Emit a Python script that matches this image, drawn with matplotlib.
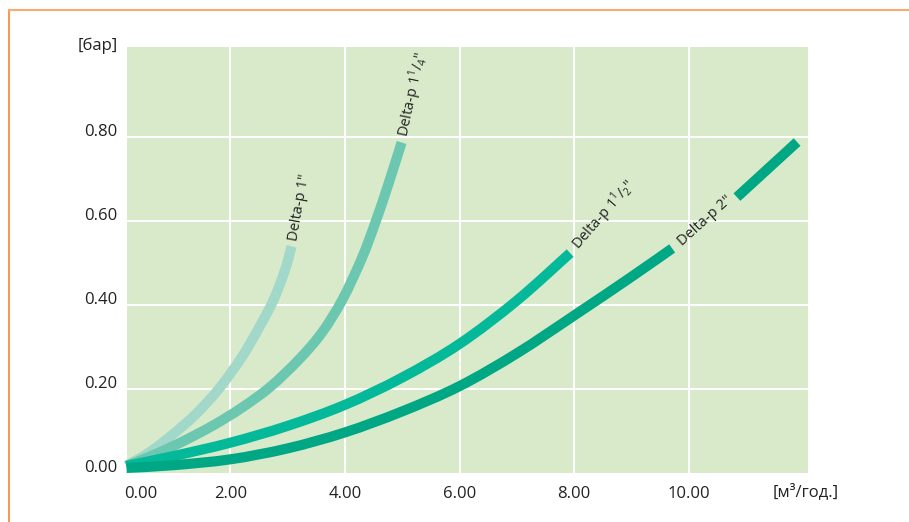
import numpy as np
import matplotlib
matplotlib.use("Agg")
import matplotlib.pyplot as plt
from matplotlib.lines import Line2D
from matplotlib.path import Path
from matplotlib.patches import PathPatch
from matplotlib.transforms import ScaledTranslation

plt.rcParams['font.family'] = ['Open Sans', 'Noto Sans', 'DejaVu Sans']
plt.rcParams['mathtext.fontset'] = 'custom'
plt.rcParams['mathtext.rm'] = 'Open Sans'
plt.rcParams['mathtext.it'] = 'Open Sans'

# ---- data ----
p1_x = [0.19, 0.6, 1.0, 1.4, 1.8, 2.2, 2.5, 2.75, 2.95, 3.07]
p1_y = [0.017, 0.050, 0.092, 0.140, 0.200, 0.275, 0.345, 0.410, 0.480, 0.539]

p114_x = [0.19, 0.7, 1.2, 1.7, 2.2, 2.7, 3.2, 3.6, 3.96, 4.30, 4.53, 4.75, 4.99]
p114_y = [0.017, 0.045, 0.077, 0.113, 0.155, 0.205, 0.270, 0.334, 0.413, 0.512, 0.595, 0.683, 0.786]

p112_x = [0.19, 1.0, 2.0, 3.0, 4.0, 5.0, 6.0, 7.0, 7.93]
p112_y = [0.017, 0.040, 0.072, 0.112, 0.162, 0.227, 0.307, 0.410, 0.523]

p2_x = [0.19, 1.0, 2.0, 3.0, 4.0, 5.0, 6.0, 7.0, 8.0, 9.0, 9.71, np.nan, 10.84, 11.89]
p2_y = [0.012, 0.0185, 0.0325, 0.0585, 0.0965, 0.1465, 0.2065, 0.2845, 0.3745, 0.4665, 0.534, np.nan, 0.656, 0.787]

series_labels = ['Delta-p 1"', r'Delta-p 1$^{1}$/$_{4}$"', r'Delta-p 1$^{1}$/$_{2}$"', 'Delta-p 2"']
series_colors = ['#a2d8c9', '#6cc7b1', '#03b99a', '#00a784']

x_grid = [2, 4, 6, 8, 10]
y_grid = [0.2, 0.4, 0.6, 0.8]
x_tick_pos = [0.44, 2, 4, 6, 8, 10]
x_tick_labels = ['0.00', '2.00', '4.00', '6.00', '8.00', '10.00']
y_tick_pos = [0.0, 0.2, 0.4, 0.6, 0.8]
y_tick_labels = ['0.00', '0.20', '0.40', '0.60', '0.80']

# label anchor positions / rotations
label_pos = [(3.10, 0.553), (5.03, 0.80), (8.03, 0.537), (9.85, 0.545)]
label_rot = [80, 78, 49, 42]

W, H = 909, 522
fig = plt.figure(figsize=(W / 100, H / 100), dpi=100)
fig.patch.set_facecolor('white')

ax = fig.add_axes([127 / W, 49 / H, (808 - 127) / W, (473 - 47) / H])
ax.set_facecolor('#d9eacb')
for s in ax.spines.values():
    s.set_visible(False)

ax.set_xlim(0.199, 12.08)
ax.set_ylim(0.0, 1.013)

for g in x_grid:
    ax.axvline(g, color='white', lw=1.4, zorder=1)
for g in y_grid:
    ax.axhline(g, color='white', lw=1.4, zorder=1)


def smooth_path(xs, ys):
    """Catmull-Rom curve through the given points, as cubic Bezier segments."""
    P = np.column_stack([xs, ys])
    verts = [P[0]]
    codes = [Path.MOVETO]
    n = len(P)
    for i in range(n - 1):
        p0 = P[i - 1] if i > 0 else P[i]
        p1 = P[i]
        p2 = P[i + 1]
        p3 = P[i + 2] if i + 2 < n else P[i + 1]
        c1 = p1 + (p2 - p0) / 6.0
        c2 = p2 - (p3 - p1) / 6.0
        verts += [c1, c2, p2]
        codes += [Path.CURVE4] * 3
    return Path(verts, codes)


data = [(p1_x, p1_y), (p114_x, p114_y), (p112_x, p112_y), (p2_x, p2_y)]
for (xs, ys), c in zip(data, series_colors):
    xs = np.asarray(xs, float)
    ys = np.asarray(ys, float)
    breaks = np.where(np.isnan(xs))[0]
    parts = np.split(np.arange(len(xs)), breaks)
    for idx in parts:
        idx = idx[~np.isnan(xs[idx])]
        if len(idx) < 2:
            continue
        patch = PathPatch(smooth_path(xs[idx], ys[idx]), fill=False, edgecolor=c,
                          lw=7.3, capstyle='butt', joinstyle='round', clip_on=False, zorder=3)
        ax.add_patch(patch)

for lab, (lx, ly), rot in zip(series_labels, label_pos, label_rot):
    ax.text(lx, ly, lab, rotation=rot, rotation_mode='anchor', ha='left', va='center',
            fontsize=10.5, fontstyle='normal', color='#222222', zorder=4)

ax.set_xticks(x_tick_pos)
ax.set_xticklabels(x_tick_labels)
ax.set_yticks(y_tick_pos)
ax.set_yticklabels(y_tick_labels)
ax.tick_params(axis='both', length=0, labelsize=12, colors='#222222')
ax.tick_params(axis='x', pad=9)
ax.tick_params(axis='y', pad=7)
off = ScaledTranslation(0, 7 / 100, fig.dpi_scale_trans)
for lbl in ax.get_yticklabels():
    lbl.set_transform(lbl.get_transform() + off)

fig.text(118 / W, 1 - 46 / H, '[бар]', ha='right', va='center', fontsize=12, color='#222222')
fig.text(773 / W, 1 - 492 / H, '[м³/год.]', ha='left', va='center', fontsize=12, color='#222222')

# orange frame
fig.add_artist(Line2D([9 / W, 9 / W], [0, 1 - 10 / H], transform=fig.transFigure,
                      color='#f39a55', lw=1.5))
fig.add_artist(Line2D([9 / W, 1], [1 - 10 / H, 1 - 10 / H], transform=fig.transFigure,
                      color='#f9aa6e', lw=1.5))

fig.savefig('out.png', dpi=100)
